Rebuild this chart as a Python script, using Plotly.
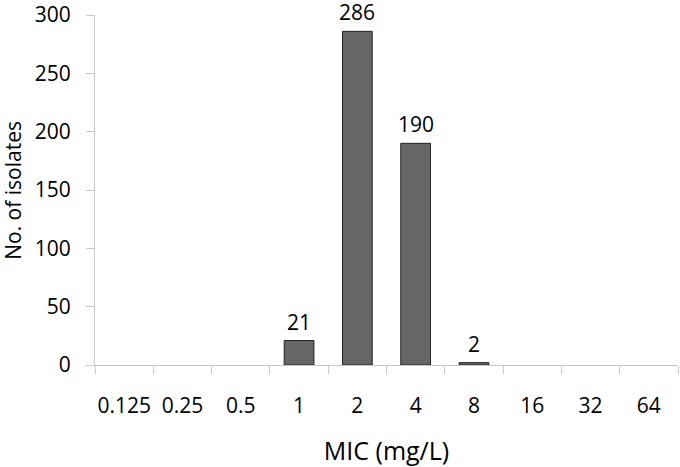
import plotly.graph_objects as go

mic = ["0.125", "0.25", "0.5", "1", "2", "4", "8", "16", "32", "64"]
isolates = [0, 0, 0, 21, 286, 190, 2, 0, 0, 0]

font = "'Open Sans', sans-serif"

# no outline for empty categories
outline = [1 if v > 0 else 0 for v in isolates]

fig = go.Figure(go.Bar(
    x=mic, y=isolates,
    marker=dict(color="#666666", line=dict(color="#222222", width=outline)),
    width=0.51
))

# value labels above the non-empty bars (category axis -> use index)
for i, v in enumerate(isolates):
    if v > 0:
        fig.add_annotation(x=i, y=v, text=str(v), showarrow=False,
                           yanchor="bottom", yshift=3,
                           font=dict(size=21, color="black", family=font))

# y title as annotation so it sits clear of the tick labels
fig.add_annotation(text="No. of isolates", textangle=-90, showarrow=False,
                   xref="paper", yref="paper", x=-0.141, y=0.5,
                   xanchor="center", yanchor="middle",
                   font=dict(size=21, color="black", family=font))

fig.update_layout(
    width=680, height=467,
    margin=dict(l=95, r=2, t=15, b=102),
    plot_bgcolor="white", paper_bgcolor="white",
    showlegend=False,
    font=dict(family=font, size=21, color="black"),
    xaxis=dict(
        type="category", showline=True, linecolor="#c8c8c8", linewidth=1,
        ticks="outside", tickson="boundaries", ticklen=8, tickcolor="#c8c8c8",
        tickangle=0, ticklabelstandoff=22, automargin=False,
        title=dict(text="MIC (mg/L)", standoff=28), tickfont=dict(size=21),
    ),
    yaxis=dict(
        range=[0, 300], dtick=50, showgrid=False, zeroline=False,
        showline=True, linecolor="#c8c8c8", linewidth=1,
        ticks="outside", ticklen=8, tickcolor="#c8c8c8",
        ticklabelstandoff=11, automargin="left", tickfont=dict(size=21),
    ),
)

# drop the default 8px page margin so the figure fills the window
fig.write_html("out.html", config={"displayModeBar": False},
               post_script="document.body.style.margin='0px';")
